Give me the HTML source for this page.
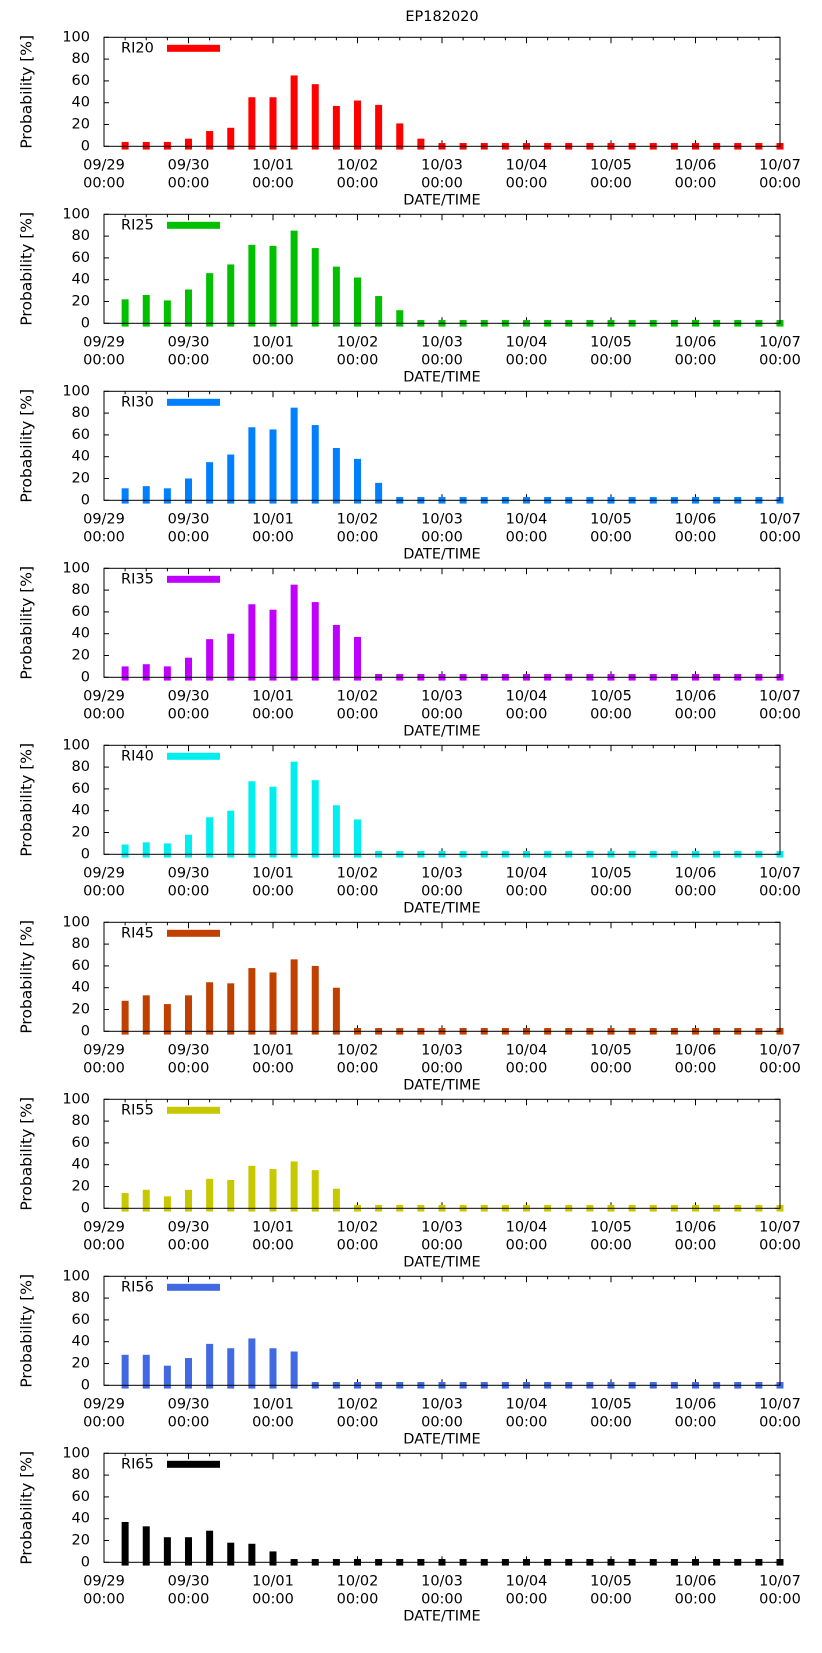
<!DOCTYPE html>
<html><head><meta charset="utf-8"><style>
html,body{margin:0;padding:0;background:#fff;}
svg{display:block;font-family:"DejaVu Sans","Liberation Sans",sans-serif;}
</style></head><body>
<svg id="chart" width="822" height="1653" viewBox="0 0 822 1653" xmlns="http://www.w3.org/2000/svg">
<text x="442" y="17" font-size="14.5" text-anchor="middle" dominant-baseline="middle">EP182020</text>
</svg>
<script>
const xTickLabels = ["09/29","09/30","10/01","10/02","10/03","10/04","10/05","10/06","10/07"];
const yTicks = [0,20,40,60,80,100];
const seriesNames = ["RI20","RI25","RI30","RI35","RI40","RI45","RI55","RI56","RI65"];
const seriesColors = ["#ff0000","#00c000","#0080ff","#c000ff","#00eeee","#c04000","#c8c800","#4169e1","#000000"];
const ri20 = [4,4,4,7,14,17,45,45,65,57,37,42,38,21,7,3,0,0,0,0,0,0,0,0,0,0,0,0,0,0,0,0];
const ri25 = [22,26,21,31,46,54,72,71,85,69,52,42,25,12,0,0,0,0,0,0,0,0,0,0,0,0,0,0,0,0,0,0];
const ri30 = [11,13,11,20,35,42,67,65,85,69,48,38,16,0,0,0,0,0,0,0,0,0,0,0,0,0,0,0,0,0,0,0];
const ri35 = [10,12,10,18,35,40,67,62,85,69,48,37,0,0,0,0,0,0,0,0,0,0,0,0,0,0,0,0,0,0,0,0];
const ri40 = [9,11,10,18,34,40,67,62,85,68,45,32,0,0,0,0,0,0,0,0,0,0,0,0,0,0,0,0,0,0,0,0];
const ri45 = [28,33,25,33,45,44,58,54,66,60,40,0,0,0,0,0,0,0,0,0,0,0,0,0,0,0,0,0,0,0,0,0];
const ri55 = [14,17,11,17,27,26,39,36,43,35,18,0,0,0,0,0,0,0,0,0,0,0,0,0,0,0,0,0,0,0,0,0];
const ri56 = [28,28,18,25,38,34,43,34,31,0,0,0,0,0,0,0,0,0,0,0,0,0,0,0,0,0,0,0,0,0,0,0];
const ri65 = [37,33,23,23,29,18,17,10,0,0,0,0,0,0,0,0,0,0,0,0,0,0,0,0,0,0,0,0,0,0,0,0];
const allSeries = [ri20,ri25,ri30,ri35,ri40,ri45,ri55,ri56,ri65];

const NS="http://www.w3.org/2000/svg";
const svg=document.getElementById('chart');
const L=104,R=780,PH=109,TOP0=37.3,STEP=177;
const dayW=(R-L)/8;
function xScale(h){return L+h/24*dayW;}
function mk(tag,attrs,parent){const e=document.createElementNS(NS,tag);for(const k in attrs)e.setAttribute(k,attrs[k]);(parent||svg).appendChild(e);return e;}

allSeries.forEach((vals,si)=>{
  const top=TOP0+si*STEP, bot=top+PH;
  const yScale=v=>bot-v/100*PH;
  const g=mk('g',{});
  
  
  // y ticks
  yTicks.forEach(t=>{
    const y=yScale(t);
    mk('line',{x1:L,x2:L+5,y1:y,y2:y,stroke:'#000'},g);
    mk('line',{x1:R,x2:R-5,y1:y,y2:y,stroke:'#000'},g);
    const tx=mk('text',{x:90,y:y,'font-size':14.5,'text-anchor':'end','dominant-baseline':'middle'},g);
    tx.textContent=t;
    
    
  });
  // x ticks
  for(let h=0;h<=192;h+=6){
    const x=xScale(h), len=(h%24===0)?6:3;
    mk('line',{x1:x,x2:x,y1:top,y2:top+len,stroke:'#000'},g);
    mk('line',{x1:x,x2:x,y1:bot,y2:bot-len,stroke:'#000'},g);
  }
  // bars
  vals.forEach((v,i)=>{
    const h=(i+1)*6; if(h>192) return;
    const x=xScale(h);
    const y1=yScale(Math.max(v,3)), y0=yScale(-3);
    const r=mk('rect',{x:x-3.5,y:y1,width:7,height:y0-y1,fill:seriesColors[si]},g);
    
    
  });
  // frame
  const fr=mk('rect',{x:L,y:top,width:R-L,height:PH,fill:'none',stroke:'#000','stroke-width':1},g);
  
  
  xTickLabels.forEach((lab,d)=>{
    const x=xScale(d*24);
    const t1=mk('text',{x:x,y:bot+19,'font-size':14.5,'text-anchor':'middle','dominant-baseline':'middle'},g);
    t1.textContent=lab;
    
    
    const t2=mk('text',{x:x,y:bot+37,'font-size':14.5,'text-anchor':'middle','dominant-baseline':'middle'},g);
    t2.textContent='00:00';
    
    
  });
  const xl=mk('text',{x:442,y:bot+54,'font-size':14.5,'text-anchor':'middle','dominant-baseline':'middle'},g);
  xl.textContent='DATE/TIME';
  
  
  const yl=mk('text',{x:0,y:0,'font-size':15.5,'text-anchor':'middle','dominant-baseline':'middle',transform:`translate(27,${top+PH/2}) rotate(-90)`},g);
  yl.textContent='Probability [%]';
  
  
  // legend
  const lt=mk('text',{x:121,y:top+11,'font-size':14.5,'dominant-baseline':'middle'},g);
  lt.textContent=seriesNames[si];
  
  
  const lr=mk('rect',{x:167,y:top+7.5,width:53,height:7,fill:seriesColors[si]},g);
  
  
});
</script>
</body></html>
